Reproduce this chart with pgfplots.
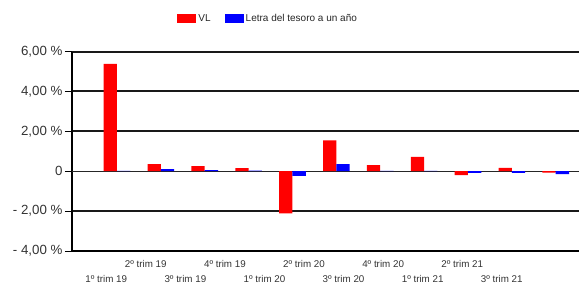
\documentclass[border=0pt]{standalone}
\usepackage{pgfplots}
\pgfplotsset{compat=1.18}
\usepackage{fontspec}
\setmainfont{Liberation Sans}
\begin{document}
\begin{tikzpicture}[x=1pt,y=1pt]
\path[use as bounding box] (0,0) rectangle (579,285);
\begin{axis}[
  at={(72pt,34pt)}, anchor=south west,
  scale only axis, width=507pt, height=199.5pt,
  xmin=-1.025, xmax=10.53, ymin=-4, ymax=6,
  ybar=0pt, bar width=13.3pt,
  axis x line*=bottom, axis y line*=left,
  axis line style={black, line width=2pt},
  ytick={-4,-2,2,4,6},
  yticklabels={{- 4,00 \%}, {- 2,00 \%}, {2,00 \%}, {4,00 \%}, {6,00 \%}},
  extra y ticks={0}, extra y tick labels={{0,00 \%}},
  extra y tick style={grid style={black!85, line width=1.3pt}},
  ymajorgrids, grid style={black!90, line width=2pt},
  y tick label style={font=\fontsize{13.3}{14}\selectfont, text=black!80, anchor=east, xshift=1pt},
  ytick style={black, line width=0.9pt},
  tick align=outside, major tick length=7pt,
  xtick={0.657,2.460,4.263,6.066,7.869},
  xticklabels={2º trim 19,4º trim 19,2º trim 20,4º trim 20,2º trim 21},
  extra x ticks={-0.244,1.559,3.362,5.165,6.967,8.770},
  extra x tick labels={1º trim 19,3º trim 19,1º trim 20,3º trim 20,1º trim 21,3º trim 21},
  extra x tick style={xticklabel style={yshift=-22pt}, major tick length=0pt},
  x tick style={draw=none},
  x tick label style={font=\fontsize{9.8}{10}\selectfont, text=black!80, anchor=center, yshift=-6pt},
  legend columns=2,
  legend style={at={(0.387,1.165)}, anchor=center, draw=none, fill=none,
    font=\fontsize{10}{11}\selectfont, text=black!85,
    /tikz/every even column/.append style={column sep=12pt}},
  legend image code/.code={\fill[#1] (0pt,-4.5pt) rectangle (19pt,4.5pt);},
]
\addplot[fill=red, draw=none] coordinates {
(0,5.38) (1,0.35) (2,0.25) (3,0.15) (4,-2.12) (5,1.55) (6,0.30) (7,0.72) (8,-0.20) (9,0.17) (10,-0.07)};
\addlegendentry{VL}
\addplot[fill=blue, draw=none] coordinates {
(0,0.02) (1,0.10) (2,0.05) (3,0.03) (4,-0.23) (5,0.35) (6,0.02) (7,0.02) (8,-0.08) (9,-0.08) (10,-0.15)};
\addlegendentry{Letra del tesoro a un año}
\end{axis}
\end{tikzpicture}
\end{document}
